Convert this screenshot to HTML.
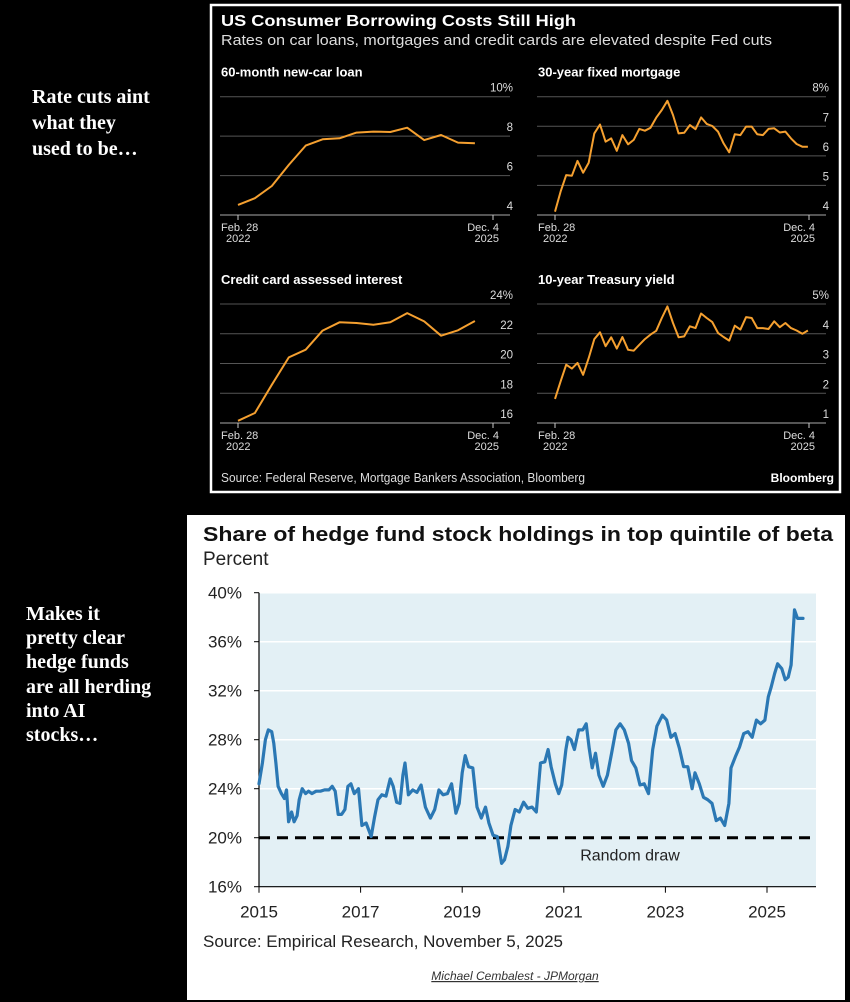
<!DOCTYPE html>
<html><head><meta charset="utf-8"><style>
html,body{margin:0;padding:0;background:#000;}
svg{display:block;}
</style></head><body>
<svg id="page" width="850" height="1002" viewBox="0 0 850 1002" xmlns="http://www.w3.org/2000/svg">
<rect x="0" y="0" width="850" height="1002" fill="#000"/>
<g font-family="Liberation Serif, serif" font-weight="bold" font-size="20" fill="#fff">
<text x="32" y="103">Rate cuts aint</text>
<text x="32" y="129">what they</text>
<text x="32" y="155">used to be…</text>
<text x="26" y="620">Makes it</text>
<text x="26" y="644">pretty clear</text>
<text x="26" y="668">hedge funds</text>
<text x="26" y="693">are all herding</text>
<text x="26" y="717">into AI</text>
<text x="26" y="741">stocks…</text>
</g>
<g>
<rect x="211" y="5" width="629" height="487" fill="#000" stroke="#fff" stroke-width="2.5"/>
<text x="221" y="26" font-family="Liberation Sans Narrow, Liberation Sans, sans-serif" font-weight="bold" font-size="16" fill="#fff" textLength="355" lengthAdjust="spacingAndGlyphs">US Consumer Borrowing Costs Still High</text>
<text x="221" y="45" font-family="Liberation Sans Narrow, Liberation Sans, sans-serif" font-size="14.5" fill="#ddd" textLength="551" lengthAdjust="spacingAndGlyphs">Rates on car loans, mortgages and credit cards are elevated despite Fed cuts</text>
<g id="panels"></g>
<text x="221" y="482" font-family="Liberation Sans Narrow, Liberation Sans, sans-serif" font-size="12.5" fill="#ddd" textLength="364" lengthAdjust="spacingAndGlyphs">Source: Federal Reserve, Mortgage Bankers Association, Bloomberg</text>
<text x="834" y="482" text-anchor="end" font-family="Liberation Sans, sans-serif" font-weight="bold" font-size="12" fill="#fff">Bloomberg</text>
</g>
<g>
<rect x="187" y="515" width="658" height="485" fill="#fff"/>
<text x="203" y="541" font-family="Liberation Sans, sans-serif" font-weight="bold" font-size="20" fill="#111" textLength="630" lengthAdjust="spacingAndGlyphs">Share of hedge fund stock holdings in top quintile of beta</text>
<text x="203" y="565" font-family="Liberation Sans, sans-serif" font-size="19" fill="#222">Percent</text>
<g id="hedge"></g>
<text x="203" y="947" font-family="Liberation Sans, sans-serif" font-size="17" fill="#222">Source: Empirical Research, November 5, 2025</text>
<text x="515" y="980" text-anchor="middle" font-family="Liberation Sans, sans-serif" font-style="italic" font-size="12" fill="#333" text-decoration="underline">Michael Cembalest - JPMorgan</text>
</g>
</svg>
<script>
// ---- Bloomberg panel data (months since Feb 28 2022) ----
const carMonths = [0,3,6,9,12,15,18,21,24,27,30,33,36,39,42];
const carValues = [4.51,4.85,5.47,6.54,7.52,7.84,7.89,8.18,8.23,8.21,8.43,7.80,8.06,7.67,7.64];
const carTicks = ["10%","8","6","4"];
const carTickValues = [10,8,6,4];
const ccMonths = [0,3,6,9,12,15,18,21,24,27,30,33,36,39,42];
const ccValues = [16.15,16.67,18.57,20.41,20.93,22.21,22.77,22.72,22.61,22.77,23.39,22.83,21.87,22.23,22.86];
const ccTicks = ["24%","22","20","18","16"];
const ccTickValues = [24,22,20,18,16];
const mortValues = [4.11,4.79,5.35,5.33,5.83,5.43,5.77,6.76,7.06,6.48,6.59,6.17,6.70,6.39,6.54,6.91,6.85,6.95,7.29,7.55,7.86,7.38,6.76,6.78,7.04,6.90,7.30,7.08,7.01,6.82,6.42,6.12,6.73,6.70,6.99,6.99,6.73,6.70,6.91,6.93,6.79,6.82,6.59,6.40,6.31,6.31];
const mortTicks = ["8%","7","6","5","4"];
const mortTickValues = [8,7,6,5,4];
const tsyValues = [1.81,2.40,2.96,2.83,3.02,2.62,3.18,3.82,4.05,3.58,3.88,3.50,3.89,3.46,3.43,3.63,3.82,3.97,4.10,4.53,4.92,4.36,3.88,3.91,4.25,4.19,4.68,4.53,4.39,4.03,3.89,3.77,4.27,4.14,4.56,4.53,4.19,4.19,4.16,4.42,4.22,4.36,4.19,4.11,4.00,4.11];
const tsyTicks = ["5%","4","3","2","1"];
const tsyTickValues = [5,4,3,2,1];
const spanMonths = 45.2;

// ---- Hedge fund data ----
const hfMonths = [0,0.8,1.5,2.2,3,3.5,4,4.5,5.3,6,6.5,7,7.7,8.3,9,9.5,10.2,11,11.7,12.5,13.5,14.5,15.5,16.5,17.3,18,18.7,19.5,20.3,21,21.7,22.5,23.5,24.3,25.3,26.5,27.3,28.1,29,30,31,31.7,32.5,33.3,34,34.5,35.3,36.3,37.3,38.3,39.3,40.5,41.5,42.5,43.5,44.5,45.5,46.5,47.3,48,48.7,49.5,50.5,51.5,52.5,53.5,54.3,55.3,56.3,57.3,58,58.8,59.5,60.5,61.5,62.5,63.5,64.5,65.5,66.5,67.5,68.3,69,70,70.8,71.5,72.5,73,73.7,74.5,75.5,76.5,77.3,78,78.7,79.5,80.3,81.3,82.3,83.3,84.3,85.3,86.3,87.3,88,89,90,91,92,93,94,95.3,96.3,97.3,98.3,99.3,100.3,101.3,102.3,103,104,105,106,107,108,109,110,111,111.5,112.5,113.5,114.5,115.5,116.5,117.5,118.5,119.5,120.3,121,121.8,122.5,123.5,124.3,125,125.7,126.5,127.2,128.5];
const hfValues = [24.4,26.1,28.0,28.8,28.65,27.7,26.1,24.2,23.6,23.2,23.9,21.3,22.1,21.3,21.8,23.1,24.0,23.6,23.8,23.6,23.8,23.8,23.9,23.9,24.2,23.8,21.9,21.9,22.3,24.2,24.4,23.6,24.0,21.0,21.2,20.1,21.7,23.1,23.5,23.4,24.8,24.2,22.9,22.8,25.1,26.1,23.5,23.9,23.7,24.3,22.5,21.6,22.3,23.9,23.5,23.6,24.4,22.0,22.8,25.3,26.7,25.8,25.7,22.5,21.6,22.5,21.2,20.2,20.1,17.9,18.2,19.3,21.0,22.3,22.1,22.9,22.4,22.5,22.1,26.1,26.2,27.2,25.8,24.4,23.6,24.3,27.2,28.2,28.0,27.2,28.8,28.8,29.3,27.3,25.7,26.9,25.1,24.2,25.1,26.9,28.8,29.3,28.8,27.7,26.3,25.7,24.3,24.4,23.6,27.2,29.1,30.0,29.6,28.2,28.5,27.3,25.8,25.8,24.0,25.3,24.4,23.3,23.1,22.8,21.4,21.6,21.0,22.8,25.7,26.6,27.4,28.5,28.65,28.2,29.6,29.3,29.6,31.5,32.3,33.4,34.2,33.8,32.9,33.1,34.1,38.6,37.9,37.9];
const hfYTicks = ["40%","36%","32%","28%","24%","20%","16%"];
const hfYTickValues = [40,36,32,28,24,20,16];
const hfXTicks = ["2015","2017","2019","2021","2023","2025"];
const hfXTickValues = [0,24,48,72,96,120];
const randomDrawLevel = 20;

const NS = "http://www.w3.org/2000/svg";
function mk(tag, attrs, parent){const e=document.createElementNS(NS,tag);for(const k in attrs)e.setAttribute(k,attrs[k]);parent.appendChild(e);return e;}

const panels = document.getElementById('panels');
function panel(key, title, x0, x1, gx0, gx1, yTop, yBot, vTop, vBot, ticks, tickVals, months, values){
  const g = mk('g',{},panels);
  
  
  const sx = m => x0 + m/spanMonths*(x1-x0);
  const sy = v => yTop + (vTop-v)/(vTop-vBot)*(yBot-yTop);
  const t = mk('text',{x:gx0+1,y:yTop-20,'font-family':'Liberation Sans Narrow, Liberation Sans, sans-serif','font-weight':'bold','font-size':'13',fill:'#fff'},g);
  t.textContent = title;
  
  
  tickVals.forEach((v,i)=>{
    const y = sy(v);
    const isBase = i===tickVals.length-1;
    const l = mk('line',{x1:gx0,x2:gx1,y1:y,y2:y,stroke:isBase?'#888':'#555','stroke-width':isBase?1.2:1},g);
    
    
    const tx = mk('text',{x:gx1+3,y:y-5,'text-anchor':'end','font-family':'Liberation Sans Narrow, Liberation Sans, sans-serif','font-size':'11.5',fill:'#ddd'},g);
    tx.textContent = ticks[i];
    
    
  });
  [[x0,'Feb. 28','2022','start'],[x1,'Dec. 4','2025','end']].forEach(([x,a,b,anc])=>{
    const tk = mk('line',{x1:x,x2:x,y1:yBot,y2:yBot+5,stroke:'#ccc','stroke-width':1},g);
    
    
    const lx = anc==='start'? x-17 : x+6;
    const t1 = mk('text',{x:lx,y:yBot+16,'text-anchor':anc,'font-family':'Liberation Sans Narrow, Liberation Sans, sans-serif','font-size':'11',fill:'#ddd'},g);
    t1.textContent = a;
    
    
    const t2 = mk('text',{x:anc==='start'?lx+5:lx,y:yBot+27,'text-anchor':anc,'font-family':'Liberation Sans Narrow, Liberation Sans, sans-serif','font-size':'11',fill:'#ddd'},g);
    t2.textContent = b;
    
    
  });
  const d = values.map((v,i)=>(i?'L':'M')+sx(months[i]).toFixed(1)+','+sy(v).toFixed(1)).join(' ');
  const p = mk('path',{d:d,fill:'none',stroke:'#f5a030','stroke-width':2,'stroke-linejoin':'round'},g);
  
  
}
const monthIdx = mortValues.map((v,i)=>i);
panel('car-loan','60-month new-car loan',238,493,220,510,96.7,215,10,4,carTicks,carTickValues,carMonths,carValues);
panel('mortgage','30-year fixed mortgage',555,809,537,826,96.7,215,8,4,mortTicks,mortTickValues,monthIdx,mortValues);
panel('credit-card','Credit card assessed interest',238,493,220,510,304,423,24,16,ccTicks,ccTickValues,ccMonths,ccValues);
panel('treasury','10-year Treasury yield',555,809,537,826,304,423,5,1,tsyTicks,tsyTickValues,tsyValues.map((v,i)=>i),tsyValues);

// ---- hedge chart ----
const hg = document.getElementById('hedge');
const px0=259, px1=816, pyTop=592.7, pyBot=886.7;
const hx = m => px0 + m/12*50.8;
const hy = v => pyTop + (40-v)/24*(pyBot-pyTop);
const bg = mk('rect',{x:px0,y:pyTop,width:px1-px0,height:pyBot-pyTop,fill:'#e3f0f5'},hg);


hfYTickValues.forEach((v,i)=>{
  const y = hy(v);
  if(v!==16 && v!==randomDrawLevel){
    const l = mk('line',{x1:px0,x2:px1,y1:y,y2:y,stroke:'#fff','stroke-width':1.5},hg);
    
    
  }
  const tk = mk('line',{x1:px0-5,x2:px0,y1:y,y2:y,stroke:'#000','stroke-width':1},hg);
  
  
  const t = mk('text',{x:px0-17,y:y+6,'text-anchor':'end','font-family':'Liberation Sans, sans-serif','font-size':'17',fill:'#222'},hg);
  t.textContent = hfYTicks[i];
  
  
});
const ya = mk('line',{x1:px0,x2:px0,y1:pyTop,y2:pyBot,stroke:'#000','stroke-width':1.2},hg);


const xa = mk('line',{x1:px0,x2:px1,y1:pyBot,y2:pyBot,stroke:'#000','stroke-width':1.2},hg);


hfXTickValues.forEach((m,i)=>{
  const x = hx(m);
  const tk = mk('line',{x1:x,x2:x,y1:pyBot,y2:pyBot+6,stroke:'#000','stroke-width':1},hg);
  
  
  const t = mk('text',{x:x,y:pyBot+31,'text-anchor':'middle','font-family':'Liberation Sans, sans-serif','font-size':'17',fill:'#222'},hg);
  t.textContent = hfXTicks[i];
  
  
});
const dl = mk('line',{x1:px0,x2:px1,y1:hy(randomDrawLevel),y2:hy(randomDrawLevel),stroke:'#000','stroke-width':3,'stroke-dasharray':'11,7'},hg);


const rd = mk('text',{x:630,y:hy(randomDrawLevel)+23,'text-anchor':'middle','font-family':'Liberation Sans, sans-serif','font-size':'16',fill:'#222'},hg);
rd.textContent = 'Random draw';


const n = Math.min(hfMonths.length, hfValues.length);
let hd = '';
for(let i=0;i<n;i++){hd += (i?'L':'M')+hx(hfMonths[i]).toFixed(1)+','+hy(hfValues[i]).toFixed(1)+' ';}
const hp = mk('path',{d:hd,fill:'none',stroke:'#2b78b4','stroke-width':3.2,'stroke-linejoin':'round','stroke-linecap':'round'},hg);


</script>
</body></html>
